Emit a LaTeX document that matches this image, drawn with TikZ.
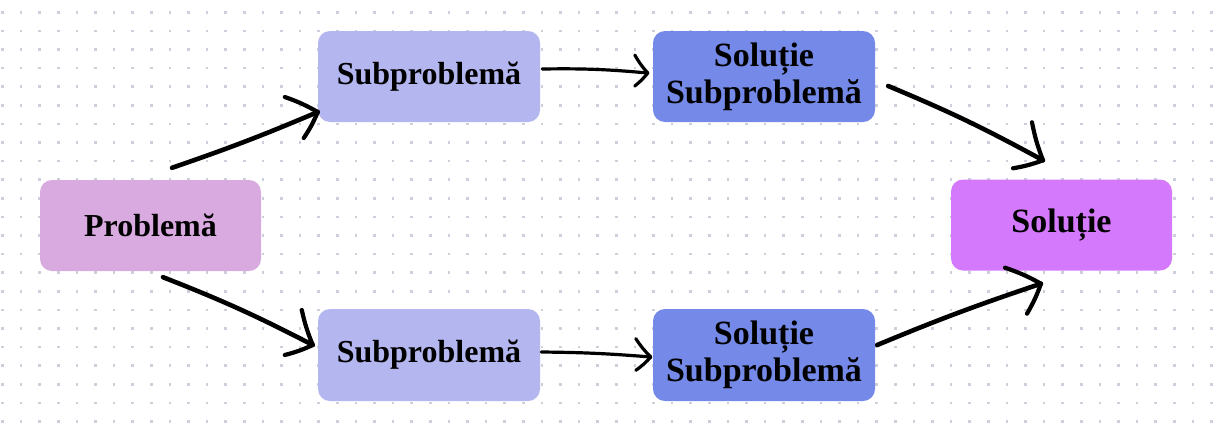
\documentclass[tikz,border=0pt]{standalone}
\usepackage{fontspec}
\setmainfont{Liberation Serif}
\usetikzlibrary{calc}
\definecolor{dotc}{RGB}{204,208,218}
\definecolor{cprob}{RGB}{217,170,224}
\definecolor{csub}{RGB}{180,182,240}
\definecolor{csol}{RGB}{116,137,232}
\definecolor{cfin}{RGB}{212,120,252}
\tikzset{
  box/.style={rounded corners=12pt, minimum width=221pt, minimum height=91pt,
    inner sep=0pt, align=center, font=\bfseries\fontsize{32}{35}\selectfont, text=black},
  bigtext/.style={font=\bfseries\fontsize{34}{37}\selectfont},
  shaft/.style={line width=4.6pt, line cap=round, line join=round, black},
  thinshaft/.style={line width=3.2pt, line cap=round, line join=round, black},
  head/.style={line width=4.2pt, line cap=round, line join=round, black},
  thinhead/.style={line width=3.2pt, line cap=round, line join=round, black},
}
\begin{document}
\begin{tikzpicture}[x=1pt,y=-1pt]
\fill[white] (0,0) rectangle (1216,432);
\useasboundingbox (0,0) rectangle (1216,432);
\foreach \i in {0,...,65}{
  \foreach \j in {0,...,22}{
    \fill[dotc] ({2.5+18.6*\i-1.3},{12.3+18.6*\j-1.3}) rectangle ++(2.6,2.6);
  }
}
% nodes
\node[box, fill=cprob] (prob) at (150.5,225.5) {Problemă};
\node[box, fill=csub, minimum width=222pt] (sub1) at (429,76.5) {Subproblemă};
\node[box, fill=csol, minimum width=222pt, bigtext] (sol1) at (764,76.5) {Soluție\\Subproblemă};
\node[box, fill=csub, minimum width=222pt, minimum height=92pt] (sub2) at (429,355) {Subproblemă};
\node[box, fill=csol, minimum width=222pt, minimum height=92pt, bigtext] (sol2) at (764,355) {Soluție\\Subproblemă};
\node[box, fill=cfin, bigtext] (sol) at (1061.5,225) {Soluție};
% arrow end points
\coordinate (a1s) at ([shift={(21.5,-12)}]prob.north);
\coordinate (a1t) at ([shift={(0,35.5)}]sub1.west);
\coordinate (a2s) at ([shift={(12.5,6)}]prob.south);
\coordinate (a2t) at ([shift={(-5,-10)}]sub2.west);
\coordinate (a3s) at ([shift={(2,-7.5)}]sub1.east);
\coordinate (a3t) at ([shift={(-5,-3.5)}]sol1.west);
\coordinate (a4s) at ([shift={(1,-3)}]sub2.east);
\coordinate (a4t) at ([shift={(-2,2)}]sol2.west);
\coordinate (a5s) at ([shift={(13,9.5)}]sol1.east);
\coordinate (a5t) at ([shift={(-18.5,-19)}]sol.north);
\coordinate (a6s) at ([shift={(2,-10)}]sol2.east);
\coordinate (a6t) at ([shift={(-20.5,13)}]sol.south);
% shafts
\draw[shaft] (a1s) to[bend right=2] (a1t);
\draw[shaft] (a2s) to[bend left=3] (a2t);
\draw[thinshaft] (a3s) to[bend left=3] (a3t);
\draw[thinshaft] (a4s) to[bend left=2] (a4t);
\draw[shaft] (a5s) to[bend left=3] (a5t);
\draw[shaft] (a6s) to[bend left=2] (a6t);
% heads
\draw[head] ([shift={(-33,-15)}]a1t) to[bend left=5] (a1t) to[bend left=5] ([shift={(-14,26)}]a1t);
\draw[head] ([shift={(-11,-35)}]a2t) to[bend right=5] (a2t) to[bend left=5] ([shift={(-28,10)}]a2t);
\draw[thinhead] ([shift={(-13,-18)}]a3t) to[bend right=6] (a3t) to[bend left=6] ([shift={(-13,13)}]a3t);
\draw[thinhead] ([shift={(-15,-18.4)}]a4t) to[bend right=6] (a4t) to[bend left=6] ([shift={(-15,13.3)}]a4t);
\draw[head] ([shift={(-11,-38)}]a5t) to[bend right=5] (a5t) to[bend left=5] ([shift={(-30,8)}]a5t);
\draw[head] ([shift={(-36,-16)}]a6t) to[bend left=5] (a6t) to[bend left=5] ([shift={(-14,30)}]a6t);
\end{tikzpicture}
\end{document}
